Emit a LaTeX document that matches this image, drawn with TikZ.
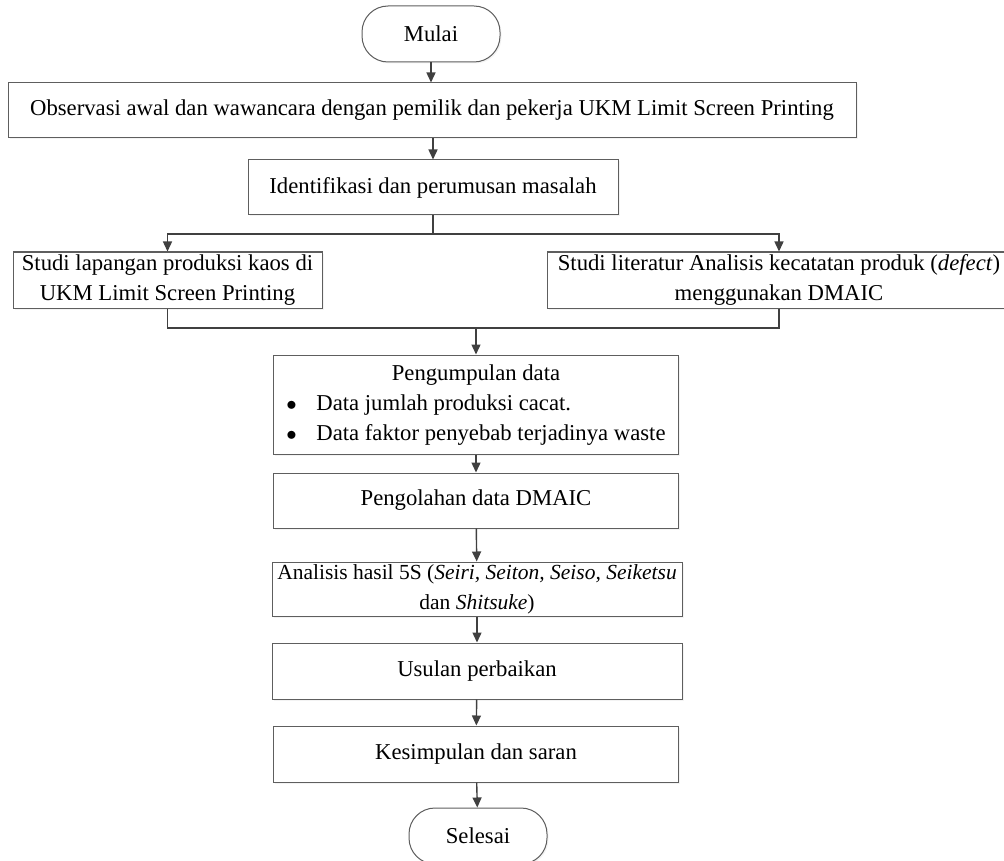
\documentclass[tikz,border=0pt]{standalone}
\usepackage{fontspec}
\setmainfont{Liberation Serif}
\usetikzlibrary{positioning, arrows.meta, shadows}

\definecolor{edgegray}{HTML}{5E5E5E}
\definecolor{linegray}{HTML}{404040}

\begin{document}
\begin{tikzpicture}[
    x=1pt, y=-1pt,
    font=\fontsize{22.7}{30}\selectfont,
    box/.style={draw=edgegray, line width=1pt, fill=white, inner sep=0pt,
        align=center, minimum height=55pt,
        drop shadow={shadow xshift=1.5pt, shadow yshift=-1.5pt, fill=black!9}},
    terminal/.style={box, rounded corners=26pt, minimum width=138pt, minimum height=56pt},
    line/.style={draw=linegray, line width=1.4pt},
    arrow/.style={line, -{Triangle[length=10pt, width=9pt]}},
]
\useasboundingbox (0, 0) rectangle (1004, 861);

% Start and first steps
\node[terminal] (mulai) at (431, 34) {Mulai};
\node[box, minimum width=848pt] (observasi) at (432, 110.5)
    {Observasi awal dan wawancara dengan pemilik dan pekerja UKM Limit Screen Printing};
\node[box, minimum width=370pt] (identifikasi) at (433, 187.5)
    {Identifikasi dan perumusan masalah};

% Two parallel studies
\node[box, minimum width=309pt, minimum height=56pt] (lapangan) at (167.5, 280)
    {Studi lapangan produksi kaos di\\UKM Limit Screen Printing};
\node[box, minimum width=464pt, minimum height=56pt] (literatur) at (779, 280)
    {Studi literatur Analisis kecatatan produk (\textit{defect})\\menggunakan DMAIC};

% Data and analysis steps
\node[box, minimum width=405pt, minimum height=99pt] (pengumpulan) at (476, 404.5)
    {\begin{tabular}{@{}p{30pt}@{}l@{}}
        \multicolumn{2}{c}{Pengumpulan data}\\
        $\bullet$ & Data jumlah produksi cacat.\\
        $\bullet$ & Data faktor penyebab terjadinya waste
    \end{tabular}};
\node[box, minimum width=405pt] (pengolahan) at (476, 500.5) {Pengolahan data DMAIC};
\node[box, minimum width=410pt, minimum height=54pt, font=\fontsize{21.5}{30}\selectfont] (analisis) at (477, 589)
    {Analisis hasil 5S (\textit{Seiri, Seiton, Seiso, Seiketsu}\\dan \textit{Shitsuke})};
\node[box, minimum width=410pt, minimum height=56pt] (usulan) at (477, 671) {Usulan perbaikan};
\node[box, minimum width=405pt, minimum height=56pt] (kesimpulan) at (476, 754) {Kesimpulan dan saran};
\node[terminal] (selesai) at (478, 836) {Selesai};

% Branch and merge points
\coordinate (split) at (433, 234);
\coordinate (merge) at (476, 328);

% Connectors
\draw[arrow] (mulai) -- (mulai |- observasi.north);
\draw[arrow] (observasi.south -| identifikasi) -- (identifikasi);
\draw[line] (identifikasi) -- (split);
\draw[arrow] (split) -| (lapangan.north);
\draw[arrow] (split) -| (literatur.north);
\draw[line] (lapangan.south) |- (merge);
\draw[line] (literatur.south) |- (merge);
\draw[arrow] (merge) -- (pengumpulan.north);
\draw[arrow] (pengumpulan) -- (pengolahan);
\draw[arrow] (pengolahan) -- (analisis);
\draw[arrow] (analisis) -- (usulan);
\draw[arrow] (usulan) -- (kesimpulan);
\draw[arrow] (kesimpulan) -- (selesai);

\end{tikzpicture}
\end{document}
